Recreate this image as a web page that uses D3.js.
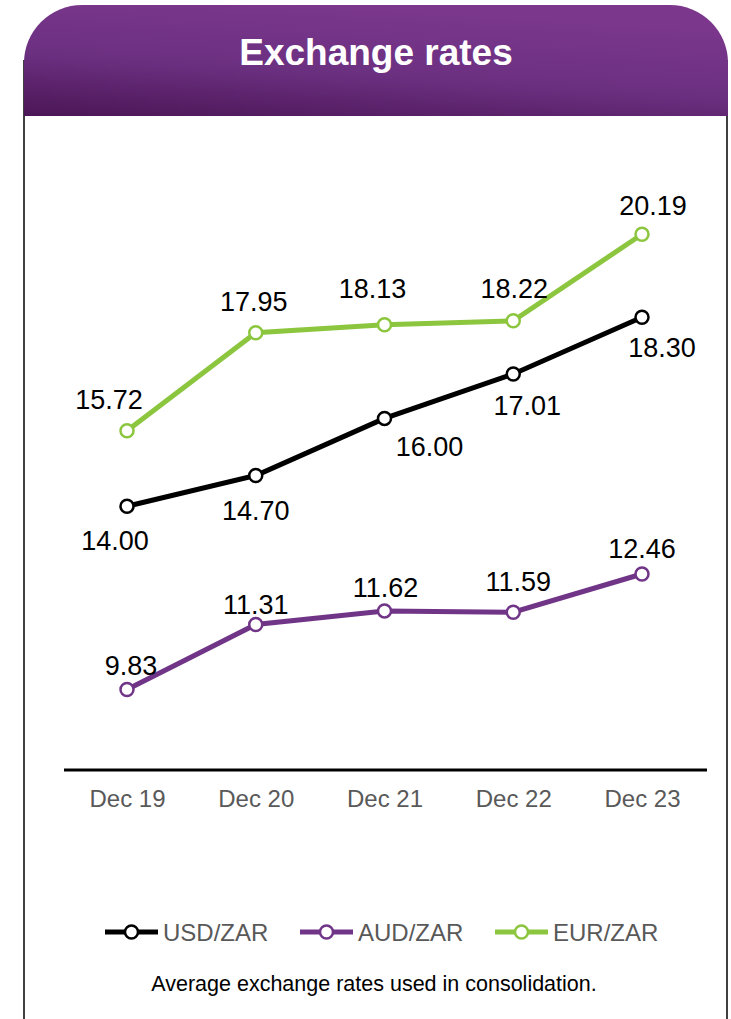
<!DOCTYPE html>
<html><head><meta charset="utf-8">
<script src="https://cdn.jsdelivr.net/npm/d3@7"></script>
<style>html,body{margin:0;padding:0;background:#fff;}svg{display:block;}</style>
</head><body>
<script>
const categories = ["Dec 19","Dec 20","Dec 21","Dec 22","Dec 23"];
const usdZar = [14.00,14.70,16.00,17.01,18.30];
const audZar = [9.83,11.31,11.62,11.59,12.46];
const eurZar = [15.72,17.95,18.13,18.22,20.19];
const seriesNames = ["USD/ZAR","AUD/ZAR","EUR/ZAR"];
const title = "Exchange rates";
const footnote = "Average exchange rates used in consolidation.";

const W = 731, H = 1019;
const FONT = "Liberation Sans, Arial, sans-serif";
const svg = d3.select("body").append("svg").attr("width", W).attr("height", H);
const defs = svg.append("defs");
const grad = defs.append("linearGradient").attr("id","hg")
  .attr("x1","0").attr("y1","1").attr("x2","0.4").attr("y2","0");
grad.append("stop").attr("offset","0").attr("stop-color","#4b1656");
grad.append("stop").attr("offset","0.5").attr("stop-color","#6c3081");
grad.append("stop").attr("offset","1").attr("stop-color","#7a378c");

// frame
svg.append("line").attr("x1",24).attr("x2",24).attr("y1",60).attr("y2",H).attr("stroke","#000").attr("stroke-width",1.5);
svg.append("line").attr("x1",727).attr("x2",727).attr("y1",60).attr("y2",H).attr("stroke","#000").attr("stroke-width",1.5);

// header with rounded top corners
const hx0=24, hx1=728, hy0=5, hy1=116, r=58;
svg.append("path").attr("fill","url(#hg)")
  .attr("d",`M${hx0},${hy1} L${hx0},${hy0+r} A${r},${r} 0 0 1 ${hx0+r},${hy0} L${hx1-r},${hy0} A${r},${r} 0 0 1 ${hx1},${hy0+r} L${hx1},${hy1} Z`);
svg.append("text").attr("x",376).attr("y",65).attr("text-anchor","middle")
  .attr("fill","#fff").attr("font-family",FONT)
  .attr("font-weight","bold").attr("font-size",37).text(title);

const x = d3.scalePoint().domain(categories).range([127,642]);
const y = d3.scaleLinear().domain([8,22]).range([770,154.7]);

// axis
const axis = svg.append("g").attr("transform","translate(0,770)")
  .call(d3.axisBottom(x).tickSize(0).tickPadding(20));
axis.select(".domain").remove();
axis.selectAll("text").attr("font-family",FONT)
  .attr("font-size",24).attr("fill","#595959");
svg.append("line").attr("x1",64).attr("x2",707).attr("y1",770).attr("y2",770)
  .attr("stroke","#000").attr("stroke-width",3);

// label placement nudges (dx, dy from the point), as laid out in the original
const series = [
  {name:seriesNames[0], vals:usdZar, color:"#000000",
   nudge:[[-12,44],[0,44],[45,38],[14,41],[20,40]]},
  {name:seriesNames[1], vals:audZar, color:"#713588",
   nudge:[[4,-15],[0,-11],[1,-14],[5,-21],[0,-15.5]]},
  {name:seriesNames[2], vals:eurZar, color:"#8cc63f",
   nudge:[[-18,-22],[-2,-22],[-12,-27],[1,-22.5],[11,-19.5]]}
];
const line = d3.line().x((d,i)=>x(categories[i])).y(d=>y(d));
series.forEach(s=>{
  const g = svg.append("g");
  g.append("path").attr("d",line(s.vals)).attr("fill","none")
    .attr("stroke",s.color).attr("stroke-width",5);
  g.selectAll("circle").data(s.vals).join("circle")
    .attr("cx",(d,i)=>x(categories[i])).attr("cy",d=>y(d)).attr("r",6.5)
    .attr("fill","#fff").attr("stroke",s.color).attr("stroke-width",2.5);
  g.selectAll("text").data(s.vals).join("text")
    .attr("x",(d,i)=>x(categories[i])+s.nudge[i][0]).attr("y",(d,i)=>y(d)+s.nudge[i][1])
    .attr("text-anchor","middle").attr("font-family",FONT)
    .attr("font-size",27).attr("fill","#000").text(d=>d.toFixed(2));
});

// legend
const legX = [105,300,495];
series.forEach((s,i)=>{
  const g = svg.append("g").attr("transform",`translate(${legX[i]},932)`);
  g.append("line").attr("x1",0).attr("x2",53).attr("stroke",s.color).attr("stroke-width",5);
  g.append("circle").attr("cx",26.5).attr("r",6.5).attr("fill","#fff").attr("stroke",s.color).attr("stroke-width",2.5);
  g.append("text").attr("x",58).attr("y",8.5).attr("font-family",FONT)
    .attr("font-size",24).attr("fill","#595959").text(s.name);
});

svg.append("text").attr("x",374).attr("y",991).attr("text-anchor","middle")
  .attr("font-family",FONT).attr("font-size",21.5)
  .attr("fill","#000").text(footnote);
</script>
</body></html>
